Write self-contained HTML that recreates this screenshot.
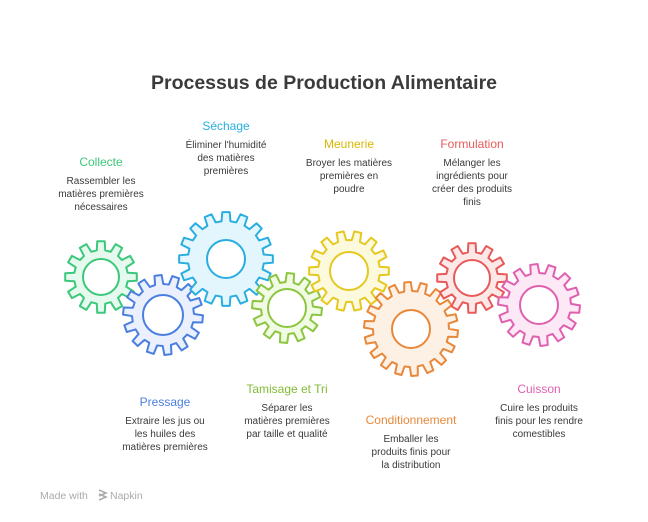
<!DOCTYPE html>
<html><head><meta charset="utf-8">
<style>
html,body{margin:0;padding:0;background:#fff;}
body{width:648px;height:522px;overflow:hidden;position:relative;font-family:"Liberation Sans",sans-serif;}
svg{position:absolute;left:0;top:0;}
</style></head><body>
<svg id="s" width="648" height="522" viewBox="0 0 648 522" xmlns="http://www.w3.org/2000/svg" font-family="Liberation Sans, sans-serif">
<text x="324" y="89" text-anchor="middle" font-size="19.5" font-weight="bold" fill="#3b3b3b">Processus de Production Alimentaire</text>
<g id="gears"></g>
<g font-size="10" fill="#3a3a3a" text-anchor="middle">
<text x="101" y="166" font-size="12" fill="#3cc87a">Collecte</text>
<text x="101" y="184">Rassembler les</text><text x="101" y="197">matières premières</text><text x="101" y="210">nécessaires</text>
<text x="226" y="130" font-size="12" fill="#29aee0">Séchage</text>
<text x="226" y="148">Éliminer l'humidité</text><text x="226" y="161">des matières</text><text x="226" y="174">premières</text>
<text x="349" y="148" font-size="12" fill="#d9b800">Meunerie</text>
<text x="349" y="166">Broyer les matières</text><text x="349" y="179">premières en</text><text x="349" y="192">poudre</text>
<text x="472" y="148" font-size="12" fill="#e85a5a">Formulation</text>
<text x="472" y="166">Mélanger les</text><text x="472" y="179">ingrédients pour</text><text x="472" y="192">créer des produits</text><text x="472" y="205">finis</text>
<text x="165" y="406" font-size="12" fill="#4a7fe0">Pressage</text>
<text x="165" y="424">Extraire les jus ou</text><text x="165" y="437">les huiles des</text><text x="165" y="450">matières premières</text>
<text x="287" y="393" font-size="12" fill="#84bb35">Tamisage et Tri</text>
<text x="287" y="411">Séparer les</text><text x="287" y="424">matières premières</text><text x="287" y="437">par taille et qualité</text>
<text x="411" y="424" font-size="12" fill="#e8883a">Conditionnement</text>
<text x="411" y="442">Emballer les</text><text x="411" y="455">produits finis pour</text><text x="411" y="468">la distribution</text>
<text x="539" y="393" font-size="12" fill="#e060b0">Cuisson</text>
<text x="539" y="411">Cuire les produits</text><text x="539" y="424">finis pour les rendre</text><text x="539" y="437">comestibles</text>
</g>
<text x="40" y="499" font-size="10.5" fill="#aaa">Made with</text>
<path d="M99 490 l7 3 l-7 3 M99 494 l7 3 l-7 3" stroke="#aaa" stroke-width="1.5" fill="none"/>
<text x="110" y="499" font-size="10.5" fill="#aaa">Napkin</text>
</svg>
<script>
var gears=[
[101,277,36,12,18,'#3cc87a','#e5f9ee',0],
[163,315,40,14,20,'#4a7fe0','#eaf0fd',0.1],
[226,259,47,16,19,'#29aee0','#e4f6fd',0],
[287,308,35,12,19,'#8cc63f','#f1fae3',0.1],
[349,271,40,14,19,'#e5c820','#fdf9dc',0],
[411,329,47,18,19,'#e8883a','#fdf0e4',0.1],
[472,278,35,12,18,'#e85a5a','#fde8e8',0],
[539,305,41,14,19,'#e060b0','#fde8f5',0.1]];
var g=document.getElementById('gears'),h='';
gears.forEach(function(a){
 var cx=a[0],cy=a[1],R=a[2],n=a[3],hr=a[4],st=a[5],fl=a[6],off=a[7];
 var r=R-9,d='',step=2*Math.PI/n;
 for(var i=0;i<n;i++){
  var b=i*step+off;
  var pts=[[r,b-step*0.3],[R,b-step*0.2],[R,b+step*0.2],[r,b+step*0.3]];
  pts.forEach(function(p,j){
   var x=cx+p[0]*Math.cos(p[1]),y=cy+p[0]*Math.sin(p[1]);
   d+=(i==0&&j==0?'M':'L')+x.toFixed(2)+' '+y.toFixed(2)+' ';
  });
 }
 d+='Z';
 h+='<path d="'+d+'" fill="'+fl+'" stroke="'+st+'" stroke-width="2" stroke-linejoin="round"/>';
 h+='<circle cx="'+cx+'" cy="'+cy+'" r="'+hr+'" fill="#fff" stroke="'+st+'" stroke-width="2"/>';
});
g.innerHTML=h;
</script>
</body></html>
